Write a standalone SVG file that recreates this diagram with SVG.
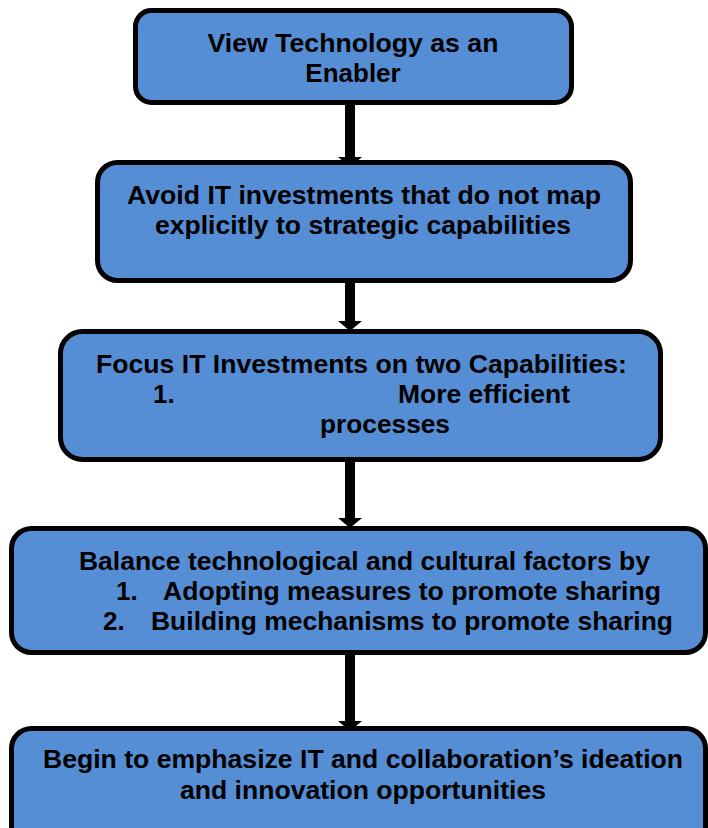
<svg xmlns="http://www.w3.org/2000/svg" width="708" height="828" viewBox="0 0 708 828">
  <style>
    .box { fill: #558ED5; stroke: #000; stroke-width: 5; }
    .t { font-family: "Liberation Sans", Arial, sans-serif; font-weight: bold; font-size: 26px; fill: #000; }
    .c { text-anchor: middle; }
    .shaft { stroke: #000; stroke-width: 10; fill: none; }
  </style>
  <defs>
    <marker id="head" viewBox="0 0 24 10" refX="12" refY="10" markerWidth="24" markerHeight="10" markerUnits="userSpaceOnUse" orient="auto-start-reverse">
      <path d="M0,0 L24,0 L12,10 Z" fill="#000"/>
    </marker>
  </defs>

  <rect width="708" height="828" fill="#fff"/>

  <!-- connectors -->
  <g id="connectors">
    <line class="shaft" x1="350" y1="103" x2="350" y2="157"/>
    <path d="M338,157 L362,157 L350,167 Z"/>
    <line class="shaft" x1="350" y1="281" x2="350" y2="321"/>
    <path d="M338,321 L362,321 L350,331 Z"/>
    <line class="shaft" x1="350" y1="460" x2="350" y2="518"/>
    <path d="M338,518 L362,518 L350,528 Z"/>
    <line class="shaft" x1="350" y1="653" x2="350" y2="721"/>
    <path d="M338,721 L362,721 L350,731 Z"/>
  </g>

  <g id="node-enabler">
    <rect class="box" x="135.5" y="10.5" width="436" height="92" rx="16"/>
    <text class="t c" x="353" y="52" textLength="291" lengthAdjust="spacingAndGlyphs">View Technology as an</text>
    <text class="t c" x="353" y="82">Enabler</text>
  </g>

  <g id="node-avoid">
    <rect class="box" x="97.5" y="162.5" width="533" height="118" rx="20"/>
    <text class="t c" x="364" y="204" textLength="474" lengthAdjust="spacingAndGlyphs">Avoid IT investments that do not map</text>
    <text class="t c" x="363" y="234" textLength="416" lengthAdjust="spacingAndGlyphs">explicitly to strategic capabilities</text>
  </g>

  <g id="node-focus">
    <rect class="box" x="60.5" y="331.5" width="600" height="128" rx="22"/>
    <text class="t c" x="361.5" y="373" textLength="531" lengthAdjust="spacingAndGlyphs">Focus IT Investments on two Capabilities:</text>
    <text class="t" x="153" y="403">1.</text>
    <text class="t" x="398" y="403" textLength="172" lengthAdjust="spacingAndGlyphs">More efficient</text>
    <text class="t c" x="385" y="433" textLength="130" lengthAdjust="spacingAndGlyphs">processes</text>
  </g>

  <g id="node-balance">
    <rect class="box" x="11.5" y="528.5" width="694" height="124" rx="20"/>
    <text class="t" x="79" y="570" textLength="571" lengthAdjust="spacingAndGlyphs">Balance technological and cultural factors by</text>
    <text class="t" x="116" y="600">1.</text>
    <text class="t" x="163" y="600" textLength="498" lengthAdjust="spacingAndGlyphs">Adopting measures to promote sharing</text>
    <text class="t" x="103" y="630">2.</text>
    <text class="t" x="151" y="630" textLength="522" lengthAdjust="spacingAndGlyphs">Building mechanisms to promote sharing</text>
  </g>

  <g id="node-begin">
    <rect class="box" x="11.5" y="728.5" width="694" height="130" rx="20"/>
    <text class="t" x="43" y="768" textLength="640" lengthAdjust="spacingAndGlyphs">Begin to emphasize IT and collaboration’s ideation</text>
    <text class="t" x="180" y="799" textLength="366" lengthAdjust="spacingAndGlyphs">and innovation opportunities</text>
  </g>
</svg>
